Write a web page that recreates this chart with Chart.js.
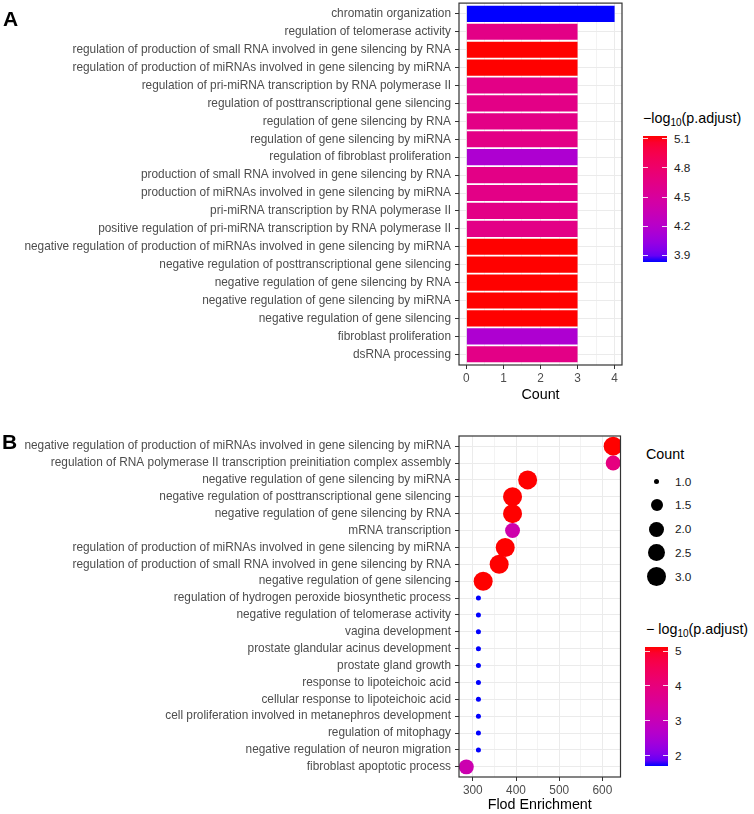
<!DOCTYPE html>
<html>
<head>
<meta charset="utf-8">
<script src="https://cdn.jsdelivr.net/npm/chart.js@4.4.1/dist/chart.umd.min.js"></script>
<style>
body { margin: 0; background: #fff; font-family: "Liberation Sans", Arial, sans-serif; }
#page { position: relative; width: 754px; height: 814px; overflow: hidden; }
canvas { position: absolute; left: 0; }
.abs { position: absolute; white-space: nowrap; }
.tag { font-weight: bold; font-size: 21px; line-height: 21px; color: #000; }
.ltitle { font-size: 14.3px; line-height: 17px; color: #000; }
.ltitle sub { font-size: 70%; vertical-align: -0.3em; line-height: 0; }
.ltext { font-size: 11.8px; line-height: 14px; color: #1a1a1a; transform: translateY(-50%); }
.cbar { position: absolute; }
.ctick { position: absolute; height: 1px; width: 5px; background: rgba(255,255,255,0.85); }
.dot { position: absolute; border-radius: 50%; background: #000; }
</style>
</head>
<body>
<div id="page">
  <canvas id="chartA" width="630" height="404" style="top:0px"></canvas>
  <canvas id="chartB" width="630" height="394" style="top:420px"></canvas>
  <div class="abs tag" style="left:3px; top:8px">A</div>
  <div class="abs tag" style="left:2px; top:431px">B</div>
  <div class="abs ltitle" style="left:643px; top:110px">−log<sub>10</sub>(p.adjust)</div>
  <div id="barA" class="cbar" style="left:643px; top:136px; width:24px; height:126px"></div>
  <div class="abs ltitle" style="left:646px; top:446px">Count</div>
  <div class="abs ltitle" style="left:646px; top:621px">− log<sub>10</sub>(p.adjust)</div>
  <div id="barB" class="cbar" style="left:645px; top:647px; width:23px; height:119px"></div>
</div>
<script>
// panel A: GO terms, gene count, -log10(p.adjust)
const categoriesA = [
    'chromatin organization',
    'regulation of telomerase activity',
    'regulation of production of small RNA involved in gene silencing by RNA',
    'regulation of production of miRNAs involved in gene silencing by miRNA',
    'regulation of pri-miRNA transcription by RNA polymerase II',
    'regulation of posttranscriptional gene silencing',
    'regulation of gene silencing by RNA',
    'regulation of gene silencing by miRNA',
    'regulation of fibroblast proliferation',
    'production of small RNA involved in gene silencing by RNA',
    'production of miRNAs involved in gene silencing by miRNA',
    'pri-miRNA transcription by RNA polymerase II',
    'positive regulation of pri-miRNA transcription by RNA polymerase II',
    'negative regulation of production of miRNAs involved in gene silencing by miRNA',
    'negative regulation of posttranscriptional gene silencing',
    'negative regulation of gene silencing by RNA',
    'negative regulation of gene silencing by miRNA',
    'negative regulation of gene silencing',
    'fibroblast proliferation',
    'dsRNA processing'
];
const countsA = [4, 3, 3, 3, 3, 3, 3, 3, 3, 3, 3, 3, 3, 3, 3, 3, 3, 3, 3, 3];
const padjA = [3.83, 4.64, 5.13, 5.13, 4.64, 4.64, 4.64, 4.64, 4.15, 4.64,
               4.64, 4.64, 4.64, 5.13, 5.13, 5.13, 5.13, 5.13, 4.15, 4.64];
const countTicksA = [0, 1, 2, 3, 4];
const colorTicksA = [3.9, 4.2, 4.5, 4.8, 5.1];

// panel B: GO terms, fold enrichment, count, -log10(p.adjust)
const termsB = [
    'negative regulation of production of miRNAs involved in gene silencing by miRNA',
    'regulation of RNA polymerase II transcription preinitiation complex assembly',
    'negative regulation of gene silencing by miRNA',
    'negative regulation of posttranscriptional gene silencing',
    'negative regulation of gene silencing by RNA',
    'mRNA transcription',
    'regulation of production of miRNAs involved in gene silencing by miRNA',
    'regulation of production of small RNA involved in gene silencing by RNA',
    'negative regulation of gene silencing',
    'regulation of hydrogen peroxide biosynthetic process',
    'negative regulation of telomerase activity',
    'vagina development',
    'prostate glandular acinus development',
    'prostate gland growth',
    'response to lipoteichoic acid',
    'cellular response to lipoteichoic acid',
    'cell proliferation involved in metanephros development',
    'regulation of mitophagy',
    'negative regulation of neuron migration',
    'fibroblast apoptotic process'
];
const enrichmentB = [625, 625, 427, 392, 392, 392, 375, 361, 324,
                     313, 313, 313, 313, 313, 313, 313, 313, 313, 313, 285];
const countsB = [3, 2, 3, 3, 3, 2, 3, 3, 3, 1, 1, 1, 1, 1, 1, 1, 1, 1, 1, 2];
const padjB = [5.12, 3.95, 5.12, 5.12, 5.12, 3.2, 5.12, 5.12, 5.12,
               1.70, 1.70, 1.70, 1.70, 1.70, 1.70, 1.70, 1.70, 1.70, 1.70, 3.15];
const enrichTicksB = [300, 400, 500, 600];
const sizeTicksB = [1.0, 1.5, 2.0, 2.5, 3.0];
const colorTicksB = [2, 3, 4, 5];

const FONT = '"Liberation Sans", Arial, sans-serif';
Chart.defaults.font.family = FONT;

// blue -> red gradient interpolated in CIELAB (ggplot style), lifted a bit to match the print
const WHITE = [0.95047, 1, 1.08883];
function rgb2lab(rgb) {
    const [r, g, b] = rgb.map(c => { c /= 255; return c <= 0.04045 ? c / 12.92 : Math.pow((c + 0.055) / 1.055, 2.4); });
    const x = (0.4124 * r + 0.3576 * g + 0.1805 * b) / WHITE[0];
    const y = (0.2126 * r + 0.7152 * g + 0.0722 * b) / WHITE[1];
    const z = (0.0193 * r + 0.1192 * g + 0.9505 * b) / WHITE[2];
    const f = t => t > 0.008856 ? Math.cbrt(t) : 7.787 * t + 16 / 116;
    return [116 * f(y) - 16, 500 * (f(x) - f(y)), 200 * (f(y) - f(z))];
}
function lab2rgb([L, a, b]) {
    const fy = (L + 16) / 116, fx = fy + a / 500, fz = fy - b / 200;
    const fi = t => t * t * t > 0.008856 ? t * t * t : (t - 16 / 116) / 7.787;
    const x = fi(fx) * WHITE[0], y = fi(fy) * WHITE[1], z = fi(fz) * WHITE[2];
    const lin = [3.2406 * x - 1.5372 * y - 0.4986 * z,
                 -0.9689 * x + 1.8758 * y + 0.0415 * z,
                 0.0557 * x - 0.2040 * y + 1.0570 * z];
    const out = lin.map(c => {
        c = Math.min(1, Math.max(0, c));
        const s = c <= 0.0031308 ? 12.92 * c : 1.055 * Math.pow(c, 1 / 2.4) - 0.055;
        return Math.round(255 * Math.pow(s, 0.75));
    });
    return `rgb(${out[0]},${out[1]},${out[2]})`;
}
const LOW = rgb2lab([0, 0, 255]);
const HIGH = rgb2lab([255, 0, 0]);
function ramp(t) {
    return lab2rgb(LOW.map((l, i) => l + (HIGH[i] - l) * t));
}
function colorFor(v, all) {
    const lo = Math.min(...all), hi = Math.max(...all);
    return ramp((v - lo) / (hi - lo));
}

function withMinors(major) {
    const out = [];
    major.forEach((v, i) => {
        out.push({ value: v });
        if (i < major.length - 1) out.push({ value: (v + major[i + 1]) / 2 });
    });
    return out;
}

function sizeFor(c) {
    const lo = Math.min(...countsB), hi = Math.max(...countsB);
    return (5 + 14 * Math.sqrt((c - lo) / (hi - lo))) / 2;
}

const panelBorder = {
    id: 'panelBorder',
    afterDraw(chart) {
        const { ctx, chartArea: a } = chart;
        ctx.save();
        ctx.strokeStyle = '#333333';
        ctx.lineWidth = 1.2;
        ctx.strokeRect(a.left, a.top, a.right - a.left, a.bottom - a.top);
        ctx.restore();
    }
};

const tickFont = { size: 11.85, family: FONT };
const titleFont = { size: 14.3, family: FONT };

function xScale(min, max, major, fitHeight, title) {
    return {
        type: 'linear', min: min, max: max,
        afterBuildTicks: s => { s.ticks = withMinors(major); },
        afterFit: s => { s.height = fitHeight; },
        ticks: { callback: v => major.includes(v) ? v : '', color: '#4D4D4D', font: tickFont, padding: 3, autoSkip: false, maxRotation: 0 },
        grid: {
            color: '#EBEBEB',
            lineWidth: c => major.includes(c.tick.value) ? 1 : 0.6,
            tickColor: c => major.includes(c.tick.value) ? '#333333' : 'rgba(0,0,0,0)',
            tickLength: 4
        },
        border: { display: false },
        title: { display: true, text: title, color: '#000', font: titleFont, padding: { top: 2, bottom: 0 } }
    };
}

function yScale(labels) {
    return {
        type: 'linear', reverse: true, offset: false, min: -0.6, max: labels.length - 0.4,
        afterBuildTicks: s => { s.ticks = labels.map((_, i) => ({ value: i })); },
        afterFit: s => { s.width = 459; },
        ticks: { callback: v => labels[v], color: '#4D4D4D', font: tickFont, padding: 4, autoSkip: false },
        grid: { offset: false, color: '#EBEBEB', lineWidth: 1, tickColor: '#333333', tickLength: 4 },
        border: { display: false }
    };
}

function configA() {
    return {
        type: 'bar',
        data: {
            datasets: [{
                data: countsA.map((c, i) => ({ x: c, y: i })),
                backgroundColor: padjA.map(v => colorFor(v, padjA)),
                borderWidth: 0,
                barPercentage: 0.9,
                categoryPercentage: 1
            }]
        },
        options: {
            indexAxis: 'y',
            responsive: false,
            animation: false,
            layout: { padding: { top: 3, right: 8, left: 0, bottom: 0 } },
            plugins: { legend: { display: false }, tooltip: { enabled: false } },
            scales: {
                x: xScale(-0.2, 4.2, countTicksA, 39, 'Count'),
                y: yScale(categoriesA)
            }
        },
        plugins: [panelBorder]
    };
}

function configB() {
    return {
        type: 'bubble',
        data: {
            datasets: [{
                data: enrichmentB.map((e, i) => ({ x: e, y: i })),
                backgroundColor: padjB.map(v => colorFor(v, padjB)),
                radius: c => sizeFor(countsB[c.dataIndex]),
                borderWidth: 0,
                clip: 0
            }]
        },
        options: {
            responsive: false,
            animation: false,
            layout: { padding: { top: 16, right: 8, left: 0, bottom: 0 } },
            plugins: { legend: { display: false }, tooltip: { enabled: false } },
            scales: {
                x: xScale(268, 642, enrichTicksB, 37, 'Flod Enrichment'),
                y: yScale(termsB)
            }
        },
        plugins: [panelBorder]
    };
}

// Chart.js reserves room for half a tick label above the plot; move the canvas up so the panel sits where it should
function mount(id, makeConfig, wantTop) {
    const canvas = document.getElementById(id);
    let chart = new Chart(canvas, makeConfig());
    const shift = Math.round(chart.chartArea.top - wantTop);
    if (shift !== 0) {
        chart.destroy();
        canvas.height = canvas.height + shift;
        canvas.style.top = (parseFloat(canvas.style.top) - shift) + 'px';
        chart = new Chart(canvas, makeConfig());
    }
    return chart;
}
mount('chartA', configA, 3);
mount('chartB', configB, 16);

// colour bar legends
const page = document.getElementById('page');
function addEl(cls, style, text) {
    const d = document.createElement('div');
    d.className = cls;
    Object.assign(d.style, style);
    if (text !== undefined) d.textContent = text;
    page.appendChild(d);
    return d;
}
function colorbar(id, values, ticks, digits) {
    const bar = document.getElementById(id);
    const lo = Math.min(...values), hi = Math.max(...values);
    const stops = [];
    for (let i = 0; i <= 20; i++) stops.push(ramp(1 - i / 20) + ' ' + (i * 5) + '%');
    bar.style.background = 'linear-gradient(to bottom, ' + stops.join(', ') + ')';
    const left = bar.offsetLeft, top = bar.offsetTop, w = bar.offsetWidth, h = bar.offsetHeight;
    ticks.forEach(t => {
        const y = top + (hi - t) / (hi - lo) * h;
        addEl('ctick', { left: left + 'px', top: (y - 0.5) + 'px' });
        addEl('ctick', { left: (left + w - 5) + 'px', top: (y - 0.5) + 'px' });
        addEl('abs ltext', { left: (left + w + 7) + 'px', top: y + 'px' }, t.toFixed(digits));
    });
}
colorbar('barA', padjA, colorTicksA, 1);
colorbar('barB', padjB, colorTicksB, 0);

// size legend for panel B
sizeTicksB.forEach((c, i) => {
    const r = sizeFor(c);
    const cy = 481.7 + i * 23.7;
    addEl('dot', { left: (656.7 - r) + 'px', top: (cy - r) + 'px', width: 2 * r + 'px', height: 2 * r + 'px' });
    addEl('abs ltext', { left: '675px', top: cy + 'px' }, c.toFixed(1));
});
</script>
</body>
</html>
